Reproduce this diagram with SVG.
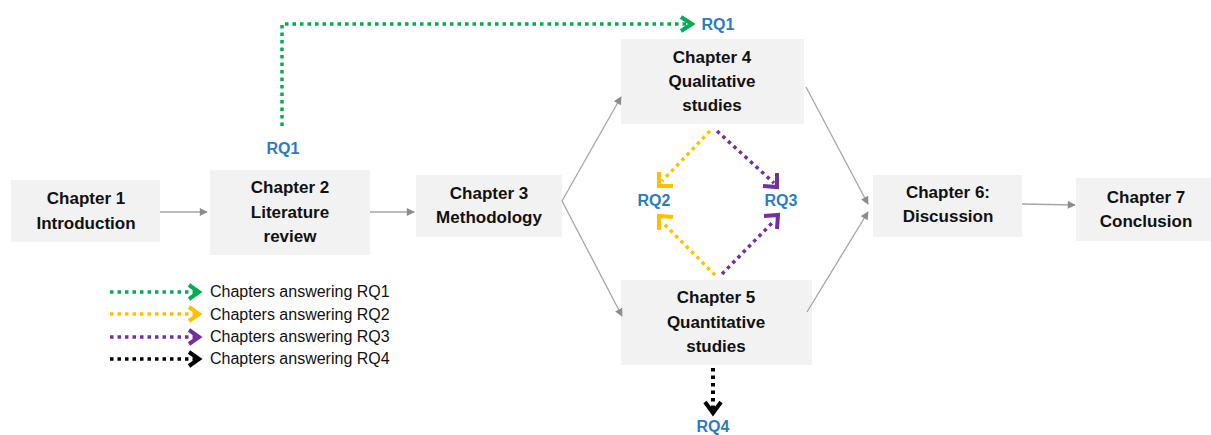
<svg xmlns="http://www.w3.org/2000/svg" width="1211" height="435" viewBox="0 0 1211 435">
  <defs>
    <style>
      .box { fill: #F2F2F2; }
      .lbl { font-family: "Liberation Sans", Arial, sans-serif; font-weight: bold; font-size: 17px; fill: #111; text-anchor: middle; }
      .rq { font-family: "Liberation Sans", Arial, sans-serif; font-weight: bold; font-size: 16px; fill: #2E7BC4; text-anchor: middle; }
      .leg { font-family: "Liberation Sans", Arial, sans-serif; font-size: 16px; fill: #111; }
      .flow { stroke: #A6A6A6; stroke-width: 1.3; fill: none; marker-end: url(#grayHead); }
      .dot { fill: none; stroke-width: 3.5; stroke-dasharray: 3.5 4; }
      .chev { fill: none; stroke-width: 4; stroke-linecap: butt; stroke-linejoin: miter; }
      .green { stroke: #00B050; }
      .yellow { stroke: #FFC000; }
      .purple { stroke: #7030A0; }
      .black { stroke: #000; }
    </style>
    <marker id="grayHead" viewBox="0 0 10 10" refX="9" refY="5" markerWidth="9" markerHeight="8" markerUnits="userSpaceOnUse" orient="auto">
      <path d="M0,0 L10,5 L0,10 Z" fill="#8C8C8C"/>
    </marker>
  </defs>

  <!-- chapter boxes -->
  <g id="ch1">
    <rect class="box" x="11" y="180" width="149" height="62"/>
    <text class="lbl" x="86" y="204">Chapter 1</text>
    <text class="lbl" x="86" y="229">Introduction</text>
  </g>
  <g id="ch2">
    <rect class="box" x="210" y="170" width="160" height="85"/>
    <text class="lbl" x="290" y="193">Chapter 2</text>
    <text class="lbl" x="290" y="218">Literature</text>
    <text class="lbl" x="290" y="242">review</text>
  </g>
  <g id="ch3">
    <rect class="box" x="416" y="175" width="146" height="62"/>
    <text class="lbl" x="489" y="199">Chapter 3</text>
    <text class="lbl" x="489" y="223">Methodology</text>
  </g>
  <g id="ch4">
    <rect class="box" x="621" y="39" width="183" height="85"/>
    <text class="lbl" x="712" y="63">Chapter 4</text>
    <text class="lbl" x="712" y="87">Qualitative</text>
    <text class="lbl" x="712" y="111">studies</text>
  </g>
  <g id="ch5">
    <rect class="box" x="621" y="280" width="191" height="85"/>
    <text class="lbl" x="716" y="303">Chapter 5</text>
    <text class="lbl" x="716" y="328">Quantitative</text>
    <text class="lbl" x="716" y="352">studies</text>
  </g>
  <g id="ch6">
    <rect class="box" x="873" y="175" width="149" height="62"/>
    <text class="lbl" x="948" y="198">Chapter 6:</text>
    <text class="lbl" x="948" y="222">Discussion</text>
  </g>
  <g id="ch7">
    <rect class="box" x="1076" y="178" width="140" height="63"/>
    <text class="lbl" x="1146" y="203">Chapter 7</text>
    <text class="lbl" x="1146" y="227">Conclusion</text>
  </g>

  <!-- research question labels -->
  <g id="rq-labels">
    <text class="rq" x="283" y="154">RQ1</text>
    <text class="rq" x="718" y="30">RQ1</text>
    <text class="rq" x="654" y="206">RQ2</text>
    <text class="rq" x="781" y="206">RQ3</text>
    <text class="rq" x="713" y="432">RQ4</text>
  </g>

  <!-- connectors -->
  <g id="connectors">
    <line class="flow" x1="160" y1="212" x2="207" y2="212"/>
    <line class="flow" x1="370" y1="212" x2="414" y2="212"/>
    <line class="flow" x1="562" y1="201" x2="621" y2="97"/>
    <line class="flow" x1="562" y1="201" x2="622" y2="316"/>
    <line class="flow" x1="806" y1="87" x2="868" y2="204"/>
    <line class="flow" x1="807" y1="312" x2="868" y2="212"/>
    <line class="flow" x1="1022" y1="204" x2="1075" y2="205"/>

    <!-- RQ1 route from chapter 2 to chapter 4 -->
    <path class="dot green" d="M282,126 V24 H689"/>
    <path class="chev green" d="M681,17 L692,24 L681,31"/>

    <!-- RQ2 / RQ3 from chapter 4 -->
    <path class="dot yellow" d="M710,131 L662,181"/>
    <path class="chev yellow" d="M659,172 L659,186 L673,186"/>
    <path class="dot purple" d="M717,131 L774,183"/>
    <path class="chev purple" d="M763,186 L777,187 L777,173"/>

    <!-- RQ2 / RQ3 from chapter 5 -->
    <path class="dot yellow" d="M715,275 L662,222"/>
    <path class="chev yellow" d="M673,217 L659,216 L659,230"/>
    <path class="dot purple" d="M722,274 L774,221"/>
    <path class="chev purple" d="M777,229 L778,215 L764,216"/>

    <!-- RQ4 from chapter 5 -->
    <path class="dot black" d="M713,368 V410" style="stroke-width:4"/>
    <path class="chev black" d="M705,402 L713,413 L721,402"/>
  </g>

  <!-- legend -->
  <g id="legend">
    <path class="dot green" d="M110,292 H196"/>
    <path class="chev green" d="M189,285 L199,292 L189,299"/>
    <text class="leg" x="210" y="297">Chapters answering RQ1</text>
    <path class="dot yellow" d="M110,314 H196"/>
    <path class="chev yellow" d="M189,307 L199,314 L189,321"/>
    <text class="leg" x="210" y="320">Chapters answering RQ2</text>
    <path class="dot purple" d="M110,337 H196"/>
    <path class="chev purple" d="M189,330 L199,337 L189,344"/>
    <text class="leg" x="210" y="342">Chapters answering RQ3</text>
    <path class="dot black" d="M110,359 H196"/>
    <path class="chev black" d="M189,352 L199,359 L189,366"/>
    <text class="leg" x="210" y="364">Chapters answering RQ4</text>
  </g>
</svg>
